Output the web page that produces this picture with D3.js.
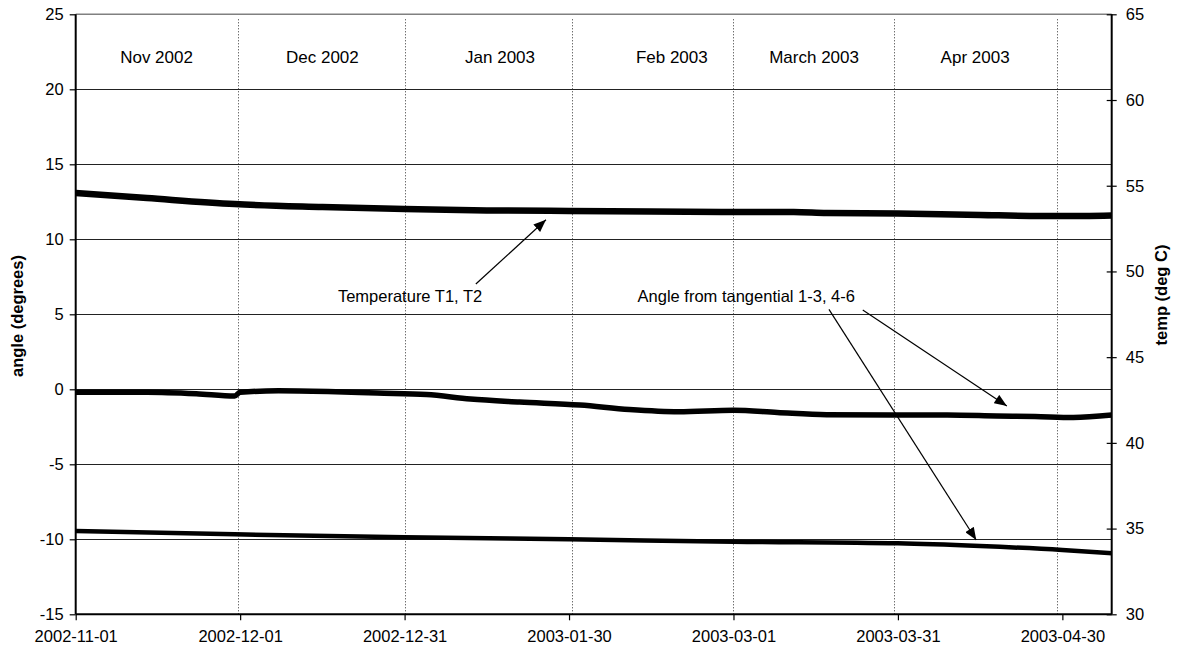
<!DOCTYPE html>
<html>
<head>
<meta charset="utf-8">
<script src="https://cdn.jsdelivr.net/npm/d3@7/dist/d3.min.js"></script>
<style>
  html, body { margin: 0; padding: 0; background: #fff; }
  svg { display: block; font-family: "Liberation Sans", Arial, sans-serif; }
</style>
</head>
<body>
<svg id="chart" width="1178" height="650"></svg>
<script>
// ---------------- data ----------------
const xDomain = ["2002-11-01", "2003-05-09"];
const xTickDates = ["2002-11-01", "2002-12-01", "2002-12-31", "2003-01-30", "2003-03-01", "2003-03-31", "2003-04-30"];
const monthLineDates = ["2002-11-30T13:30", "2002-12-31T02:00", "2003-01-30T13:30", "2003-03-01T00:00", "2003-03-30T07:00", "2003-04-29T02:00"];
const monthLabels = ["Nov 2002", "Dec 2002", "Jan 2003", "Feb 2003", "March 2003", "Apr 2003"];
const monthLabelDates = ["2002-11-15T18:00", "2002-12-16T00:00", "2003-01-17T10:00", "2003-02-17T18:00", "2003-03-15T17:00", "2003-04-14T02:00"];

const leftDomain = [-15, 25];
const leftTicks = [-15, -10, -5, 0, 5, 10, 15, 20, 25];
const rightDomain = [30, 65];
const rightTicks = [30, 35, 40, 45, 50, 55, 60, 65];

// Temperature T1, T2 (deg C, right axis)
const tempDates = ["2002-11-01", "2002-11-14", "2002-11-30", "2002-12-16", "2002-12-31", "2003-01-15", "2003-01-30", "2003-02-14", "2003-03-01", "2003-03-12", "2003-03-18", "2003-03-31", "2003-04-15", "2003-04-30", "2003-05-09"];
const tempValues = [54.58, 54.28, 53.93, 53.76, 53.64, 53.56, 53.53, 53.50, 53.47, 53.47, 53.41, 53.38, 53.29, 53.23, 53.27];

// Angle from tangential 1-3 (degrees, left axis)
const angleADates = ["2002-11-01", "2002-11-14", "2002-11-23", "2002-11-30", "2002-12-01", "2002-12-08", "2002-12-17", "2002-12-26", "2003-01-04", "2003-01-12", "2003-01-21", "2003-02-01", "2003-02-10", "2003-02-19", "2003-03-01", "2003-03-09", "2003-03-18", "2003-03-30", "2003-04-09", "2003-04-18", "2003-04-25", "2003-05-02", "2003-05-09"];
const angleAValues = [-0.2, -0.2, -0.3, -0.45, -0.2, -0.1, -0.15, -0.25, -0.35, -0.65, -0.85, -1.05, -1.35, -1.5, -1.4, -1.55, -1.7, -1.72, -1.72, -1.78, -1.82, -1.88, -1.72];

// Angle from tangential 4-6 (degrees, left axis)
const angleBDates = ["2002-11-01", "2002-11-30", "2002-12-31", "2003-01-30", "2003-03-01", "2003-03-31", "2003-04-15", "2003-04-30", "2003-05-09"];
const angleBValues = [-9.45, -9.67, -9.87, -10.0, -10.16, -10.27, -10.45, -10.71, -10.93];

// annotations (date, left-axis value)
const annoTexts = ["Temperature T1, T2", "Angle from tangential 1-3, 4-6"];
const annoTextAt = [["2003-01-01T00:00", 5.82], ["2003-03-03T08:00", 5.84]];
const arrowFrom = [["2003-01-13T00:00", 7.02], ["2003-03-18T10:00", 5.33], ["2003-03-24T14:00", 5.29]];
const arrowTo = [["2003-01-25T19:00", 11.3], ["2003-04-14T07:00", -10.05], ["2003-04-19T21:00", -1.11]];

// ---------------- drawing ----------------
const parse = s => new Date(s.length === 10 ? s + "T00:00:00Z" : s + ":00Z");

const plot = { left: 75.7, right: 1111.7, top: 14.3, bottom: 614.3 };

const x = d3.scaleUtc().domain(xDomain.map(parse)).range([plot.left, plot.right]);
const yL = d3.scaleLinear().domain(leftDomain).range([plot.bottom, plot.top]);
const yR = d3.scaleLinear().domain(rightDomain).range([plot.bottom, plot.top]);

const svg = d3.select("#chart");
const FS = 16.5;

// top border of plot area
svg.append("line")
  .attr("x1", plot.left).attr("x2", plot.right)
  .attr("y1", plot.top).attr("y2", plot.top)
  .attr("stroke", "#808080").attr("stroke-width", 1.5);

// horizontal gridlines
svg.append("g").selectAll("line")
  .data(leftTicks.filter(v => v > leftDomain[0] && v < leftDomain[1]))
  .join("line")
  .attr("x1", plot.left).attr("x2", plot.right)
  .attr("y1", d => Math.round(yL(d)) + 0.5).attr("y2", d => Math.round(yL(d)) + 0.5)
  .attr("stroke", "#222").attr("stroke-width", 1);

// month separator dotted lines
svg.append("g").selectAll("line")
  .data(monthLineDates.map(parse))
  .join("line")
  .attr("x1", d => Math.round(x(d)) + 0.5).attr("x2", d => Math.round(x(d)) + 0.5)
  .attr("y1", plot.top + 5).attr("y2", plot.bottom)
  .attr("stroke", "#333").attr("stroke-width", 1)
  .attr("stroke-dasharray", "1,2");

// month labels
svg.append("g").selectAll("text")
  .data(monthLabels)
  .join("text")
  .attr("x", (d, i) => x(parse(monthLabelDates[i])))
  .attr("y", 63)
  .attr("text-anchor", "middle")
  .attr("font-size", FS + 0.5)
  .attr("fill", "#000")
  .text(d => d);

// series lines
const lineL = d3.line().x(d => x(d[0])).y(d => yL(d[1])).curve(d3.curveMonotoneX);
const lineR = d3.line().x(d => x(d[0])).y(d => yR(d[1])).curve(d3.curveMonotoneX);

const seriesTemp = tempDates.map((d, i) => [parse(d), tempValues[i]]);
const seriesA = angleADates.map((d, i) => [parse(d), angleAValues[i]]);
const seriesB = angleBDates.map((d, i) => [parse(d), angleBValues[i]]);

svg.append("path").datum(seriesB).attr("d", lineL)
  .attr("fill", "none").attr("stroke", "#000").attr("stroke-width", 4.5).attr("stroke-linejoin", "round");
svg.append("path").datum(seriesA).attr("d", lineL)
  .attr("fill", "none").attr("stroke", "#000").attr("stroke-width", 5.5).attr("stroke-linejoin", "round");
svg.append("path").datum(seriesTemp).attr("d", lineR)
  .attr("fill", "none").attr("stroke", "#000").attr("stroke-width", 6.5).attr("stroke-linejoin", "round");

// axes
const fmt = d3.utcFormat("%Y-%m-%d");
const numFmt = d => String(d);
const xAxis = d3.axisBottom(x).tickValues(xTickDates.map(parse)).tickFormat(fmt).tickSize(6).tickPadding(10);
const gx = svg.append("g").attr("transform", `translate(0,${plot.bottom})`).call(xAxis);

const gl = svg.append("g").attr("transform", `translate(${plot.left},0)`)
  .call(d3.axisLeft(yL).tickValues(leftTicks).tickFormat(numFmt).tickSize(6).tickPadding(6));

const gr = svg.append("g").attr("transform", `translate(${plot.right},0)`)
  .call(d3.axisRight(yR).tickValues(rightTicks).tickFormat(numFmt).tickSize(5).tickPadding(9));
gr.selectAll(".tick line").attr("x1", -5);

[gx, gl, gr].forEach(g => {
  g.select(".domain").attr("stroke", "#000").attr("stroke-width", 2);
  g.selectAll(".tick line").attr("stroke", "#000").attr("stroke-width", 1.2);
  g.selectAll(".tick text").attr("font-size", FS).attr("font-family", "Liberation Sans, Arial, sans-serif").attr("fill", "#000");
});
gx.select(".domain").attr("d", `M${plot.left},0H${plot.right}`);
gl.select(".domain").attr("d", `M0,${plot.bottom}V${plot.top}`);
gr.select(".domain").attr("d", `M0,${plot.bottom}V${plot.top}`);

// axis titles
svg.append("text")
  .attr("transform", `translate(23,316) rotate(-90)`)
  .attr("text-anchor", "middle").attr("font-size", FS).attr("font-weight", "bold")
  .text("angle (degrees)");
svg.append("text")
  .attr("transform", `translate(1167,295) rotate(-90)`)
  .attr("text-anchor", "middle").attr("font-size", FS).attr("font-weight", "bold")
  .text("temp (deg C)");

// annotations
svg.append("defs").append("marker")
  .attr("id", "arrowhead")
  .attr("viewBox", "0 0 10 8").attr("refX", 10).attr("refY", 4)
  .attr("markerWidth", 13).attr("markerHeight", 10)
  .attr("markerUnits", "userSpaceOnUse")
  .attr("orient", "auto")
  .append("path").attr("d", "M0,0L10,4L0,8Z").attr("fill", "#000");

svg.append("g").selectAll("text")
  .data(annoTexts)
  .join("text")
  .attr("x", (d, i) => x(parse(annoTextAt[i][0])))
  .attr("y", (d, i) => yL(annoTextAt[i][1]))
  .attr("text-anchor", "middle").attr("font-size", FS)
  .text(d => d);

svg.append("g").selectAll("line")
  .data(arrowFrom)
  .join("line")
  .attr("x1", d => x(parse(d[0]))).attr("y1", d => yL(d[1]))
  .attr("x2", (d, i) => x(parse(arrowTo[i][0]))).attr("y2", (d, i) => yL(arrowTo[i][1]))
  .attr("stroke", "#000").attr("stroke-width", 1.2)
  .attr("marker-end", "url(#arrowhead)");
</script>
</body>
</html>
